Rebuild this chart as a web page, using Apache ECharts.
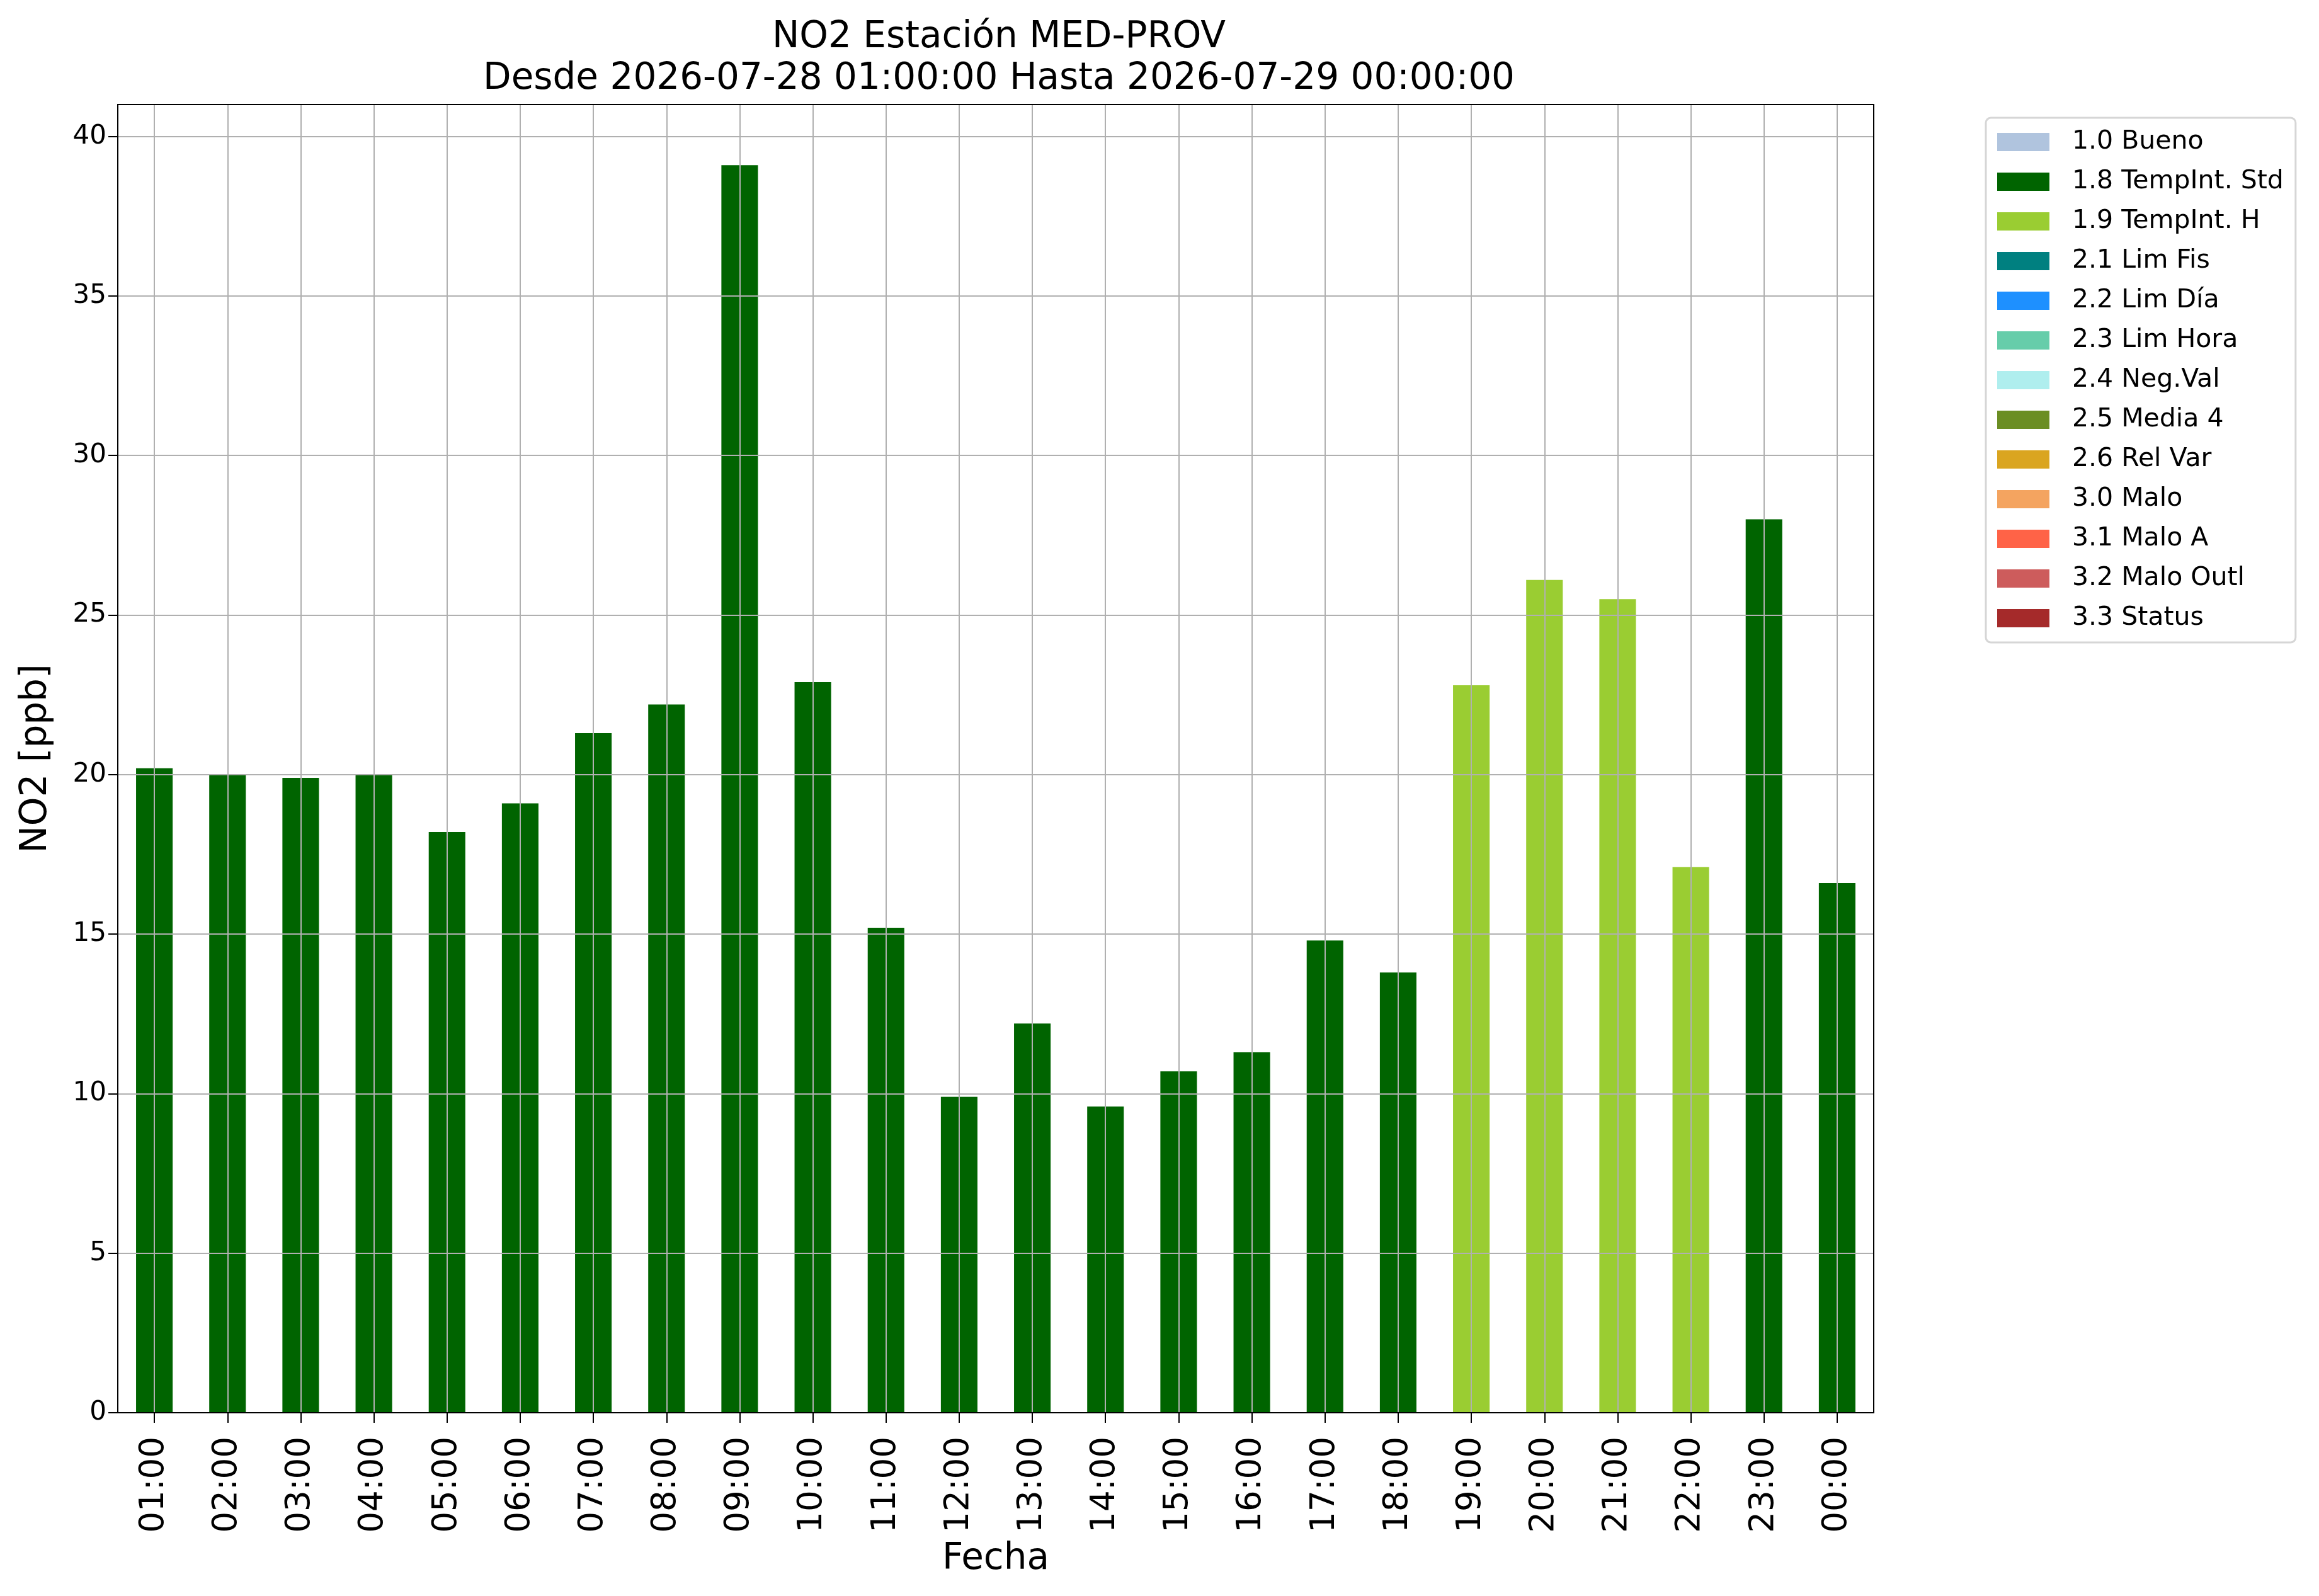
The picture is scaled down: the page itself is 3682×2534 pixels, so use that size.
<!DOCTYPE html>
<html>
<head>
<meta charset="utf-8">
<title>NO2 Estación MED-PROV</title>
<script src="https://cdn.jsdelivr.net/npm/echarts@6/dist/echarts.min.js"></script>
<style>
    html, body { margin: 0; padding: 0; background: #fff; }
    #chart { width: 3682px; height: 2534px; }
</style>
</head>
<body>
<div id="chart"></div>
<script>
// horas medidas
var hours = ["01:00", "02:00", "03:00", "04:00", "05:00", "06:00", "07:00", "08:00",
    "09:00", "10:00", "11:00", "12:00", "13:00", "14:00", "15:00", "16:00",
    "17:00", "18:00", "19:00", "20:00", "21:00", "22:00", "23:00", "00:00"];

// NO2 [ppb]
var no2Values = [20.2, 20.0, 19.9, 20.0, 18.2, 19.1, 21.3, 22.2,
    39.1, 22.9, 15.2, 9.9, 12.2, 9.6, 10.7, 11.3,
    14.8, 13.8, 22.8, 26.1, 25.5, 17.1, 28.0, 16.6];

// bandera de validacion de cada hora
var hourFlags = ["1.8 TempInt. Std", "1.8 TempInt. Std", "1.8 TempInt. Std", "1.8 TempInt. Std",
    "1.8 TempInt. Std", "1.8 TempInt. Std", "1.8 TempInt. Std", "1.8 TempInt. Std",
    "1.8 TempInt. Std", "1.8 TempInt. Std", "1.8 TempInt. Std", "1.8 TempInt. Std",
    "1.8 TempInt. Std", "1.8 TempInt. Std", "1.8 TempInt. Std", "1.8 TempInt. Std",
    "1.8 TempInt. Std", "1.8 TempInt. Std", "1.9 TempInt. H", "1.9 TempInt. H",
    "1.9 TempInt. H", "1.9 TempInt. H", "1.8 TempInt. Std", "1.8 TempInt. Std"];

var flagNames = ["1.0 Bueno", "1.8 TempInt. Std", "1.9 TempInt. H", "2.1 Lim Fis",
    "2.2 Lim Día", "2.3 Lim Hora", "2.4 Neg.Val", "2.5 Media 4", "2.6 Rel Var",
    "3.0 Malo", "3.1 Malo A", "3.2 Malo Outl", "3.3 Status"];

var flagColors = ["#B0C4DE", "#006400", "#9ACD32", "#008080", "#1E90FF", "#66CDAA",
    "#AFEEEE", "#6B8E23", "#DAA520", "#F4A460", "#FF6347", "#CD5C5C", "#A52A2A"];

var yTicks = [0, 5, 10, 15, 20, 25, 30, 35, 40];

var FONT = "DejaVu Sans";
var GRID_COLOR = "#b0b0b0";

var chart = echarts.init(document.getElementById("chart"), null, {renderer: "canvas"});

// una serie por bandera, apiladas para que compartan posicion
var series = flagNames.map(function (name, i) {
    var s = {
        name: name,
        type: "bar",
        stack: "flag",
        barWidth: "50%",
        itemStyle: {color: flagColors[i]},
        data: no2Values.map(function (v, k) {
            return hourFlags[k] === name ? v : "-";
        })
    };
    // rejilla vertical en el centro de cada hora, encima de las barras
    if (i === 0) {
        s.markLine = {
            silent: true,
            symbol: ["none", "none"],
            label: {show: false},
            z: 5,
            lineStyle: {color: GRID_COLOR, width: 2, type: "solid"},
            data: hours.map(function (h) {
                return {xAxis: h};
            })
        };
    }
    return s;
});

var option = {
    animation: false,
    backgroundColor: "#ffffff",
    textStyle: {fontFamily: FONT, color: "#000"},
    title: {
        text: "NO2 Estación MED-PROV\nDesde 2026-07-28 01:00:00 Hasta 2026-07-29 00:00:00",
        left: 1581,
        top: 22,
        textAlign: "center",
        textStyle: {fontFamily: FONT, fontWeight: "normal", fontSize: 58, lineHeight: 66, color: "#000"}
    },
    legend: {
        orient: "vertical",
        left: 3153,
        top: 187,
        padding: [18, 19, 18, 18],
        itemWidth: 83,
        itemHeight: 29,
        itemGap: 22,
        icon: "rect",
        selectedMode: false,
        borderColor: "#d6d6d6",
        borderWidth: 3,
        borderRadius: 8,
        data: flagNames,
        textStyle: {fontFamily: FONT, fontSize: 41, color: "#000", padding: [0, 0, 0, 31]}
    },
    grid: {
        left: 187,
        right: 707,
        top: 166,
        bottom: 291,
        show: true,
        z: 10,
        borderColor: "#000",
        borderWidth: 2,
        containLabel: false
    },
    xAxis: {
        type: "category",
        data: hours,
        boundaryGap: true,
        name: "Fecha",
        nameLocation: "middle",
        nameGap: 204,
        nameTextStyle: {fontFamily: FONT, fontSize: 58, color: "#000"},
        axisLine: {show: true, lineStyle: {color: "#000", width: 2}},
        axisTick: {show: true, alignWithLabel: true, length: 16, lineStyle: {color: "#000", width: 2}},
        axisLabel: {rotate: 90, margin: 38, fontFamily: FONT, fontSize: 53, color: "#000", interval: 0},
        splitLine: {show: false}
    },
    yAxis: {
        type: "value",
        min: 0,
        max: 41,
        interval: 5,
        z: 4,
        name: "NO2 [ppb]",
        nameLocation: "middle",
        nameGap: 100,
        nameRotate: 90,
        nameTextStyle: {fontFamily: FONT, fontSize: 58, color: "#000"},
        axisLine: {show: true, lineStyle: {color: "#000", width: 2}},
        axisTick: {show: true, length: 15, inside: false, lineStyle: {color: "#000", width: 2}},
        axisLabel: {
            margin: 18,
            fontFamily: FONT,
            fontSize: 42,
            color: "#000",
            showMaxLabel: false,
            formatter: function (v) {
                return yTicks.indexOf(v) >= 0 ? String(v) : "";
            }
        },
        splitLine: {show: true, showMinLine: false, showMaxLine: false, lineStyle: {color: GRID_COLOR, width: 2}}
    },
    series: series
};

chart.setOption(option);
</script>
</body>
</html>
